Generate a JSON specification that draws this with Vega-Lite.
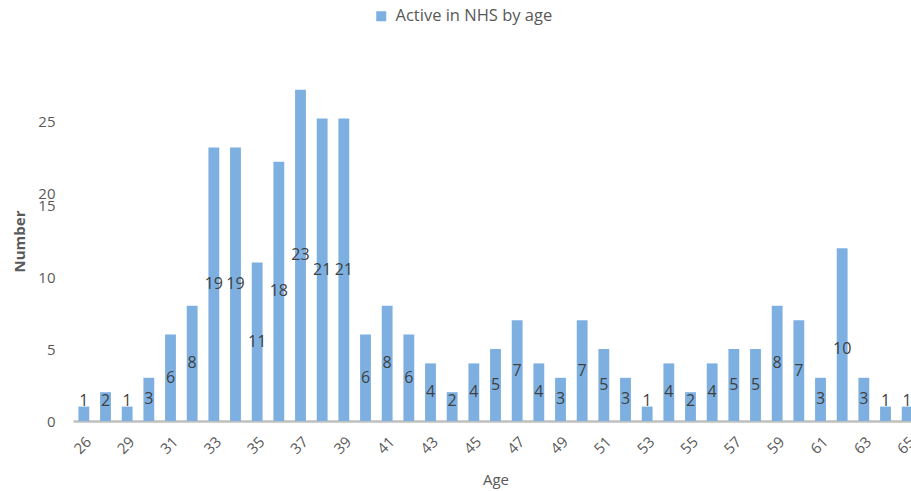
{
  "$schema": "https://vega.github.io/schema/vega-lite/v6.json",
  "autosize": "none",
  "width": 845,
  "height": 360,
  "padding": {"left": 73, "top": 61, "right": 0, "bottom": 70},
  "background": "white",
  "config": {"view": {"stroke": null}, "font": "Open Sans"},
  "data": {"values": [
    {"age": "26", "n": 1, "label": 1},
    {"age": "28", "n": 2, "label": 2},
    {"age": "29", "n": 1, "label": 1},
    {"age": "30", "n": 3, "label": 3},
    {"age": "31", "n": 6, "label": 6},
    {"age": "32", "n": 8, "label": 8},
    {"age": "33", "n": 19, "label": 19},
    {"age": "34", "n": 19, "label": 19},
    {"age": "35", "n": 11, "label": 11},
    {"age": "36", "n": 18, "label": 18},
    {"age": "37", "n": 23, "label": 23},
    {"age": "38", "n": 21, "label": 21},
    {"age": "39", "n": 21, "label": 21},
    {"age": "40", "n": 6, "label": 6},
    {"age": "41", "n": 8, "label": 8},
    {"age": "42", "n": 6, "label": 6},
    {"age": "43", "n": 4, "label": 4},
    {"age": "44", "n": 2, "label": 2},
    {"age": "45", "n": 4, "label": 4},
    {"age": "46", "n": 5, "label": 5},
    {"age": "47", "n": 7, "label": 7},
    {"age": "48", "n": 4, "label": 4},
    {"age": "49", "n": 3, "label": 3},
    {"age": "50", "n": 7, "label": 7},
    {"age": "51", "n": 5, "label": 5},
    {"age": "52", "n": 3, "label": 3},
    {"age": "53", "n": 1, "label": 1},
    {"age": "54", "n": 4, "label": 4},
    {"age": "55", "n": 2, "label": 2},
    {"age": "56", "n": 4, "label": 4},
    {"age": "57", "n": 5, "label": 5},
    {"age": "58", "n": 5, "label": 5},
    {"age": "59", "n": 8, "label": 8},
    {"age": "60", "n": 7, "label": 7},
    {"age": "61", "n": 3, "label": 3},
    {"age": "62", "n": 12, "label": 10},
    {"age": "63", "n": 3, "label": 3},
    {"age": "64", "n": 1, "label": 1},
    {"age": "65", "n": 1, "label": 1}
  ]},
  "encoding": {
    "x": {
      "field": "age", "type": "ordinal", "sort": null,
      "scale": {"paddingInner": 0.5, "paddingOuter": 0.25},
      "axis": {
        "title": "Age", "titleFont": "Open Sans", "titleFontSize": 15, "titleFontWeight": "normal", "titleColor": "#595959", "titlePadding": 16,
        "values": ["26","29","31","33","35","37","39","41","43","45","47","49","51","53","55","57","59","61","63","65"],
        "labelAngle": -45, "labelFontSize": 15, "labelColor": "#595959", "labelPadding": 13, "labelOverlap": false, "labelBound": false,
        "ticks": false, "domainColor": "#bfbfbf", "domainWidth": 2.5, "grid": false
      }
    }
  },
  "layer": [
    {
      "mark": {"type": "bar", "color": "#7db0e1"},
      "encoding": {
        "y": {
          "field": "n", "type": "quantitative",
          "scale": {"domain": [0, 25], "nice": false},
          "axis": {
            "title": "Number", "titleFontSize": 15, "titleFontWeight": "bold", "titleColor": "#595959", "titlePadding": 10,
            "values": [0, 5, 10, 15, 15.83, 20.83],
            "labelExpr": "datum.value > 20 ? '25' : (datum.value > 15.5 ? '20' : datum.label)",
            "labelFontSize": 15, "labelColor": "#595959", "labelPadding": 18, "labelOverlap": false, "labelBound": false,
            "ticks": false, "domain": false, "grid": false
          }
        },
        "color": {
          "datum": "Active in NHS by age",
          "scale": {"range": ["#7db0e1"]},
          "legend": {
            "title": null, "orient": "none", "legendX": 300, "legendY": -53,
            "direction": "horizontal", "symbolType": "square", "symbolSize": 100,
            "labelFontSize": 16.5, "labelColor": "#595959", "labelFont": "Open Sans", "labelOffset": 6
          }
        }
      }
    },
    {
      "transform": [{"calculate": "max(datum.label / 2, 1.4)", "as": "labelPos"}],
      "mark": {"type": "text", "fontSize": 16, "color": "#404040", "baseline": "middle"},
      "encoding": {
        "y": {"field": "labelPos", "type": "quantitative"},
        "text": {"field": "label", "type": "quantitative"}
      }
    }
  ]
}
